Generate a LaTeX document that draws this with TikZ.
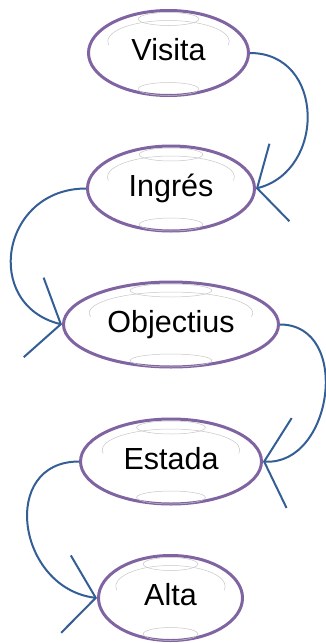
\documentclass[tikz,border=0pt]{standalone}
\usepackage{fontspec}
\setmainfont{Liberation Sans}
\usetikzlibrary{shapes.geometric, arrows.meta}
\definecolor{etapalila}{RGB}{128,100,162}
\definecolor{fluxblau}{RGB}{52,94,150}
\tikzset{
  etapa/.style={ellipse, draw=etapalila, line width=3pt, minimum height=85pt,
    inner sep=0pt, text height=21pt, text depth=6pt,
    font=\fontsize{30.5}{36}\selectfont},
  brillo/.style={draw=gray!45, line width=0.5pt},
  flux/.style={draw=fluxblau, line width=2pt, -{Straight Barb[#1]}},
  flux/.default={length=26pt, width=84pt}
}

\begin{document}
\begin{tikzpicture}[x=1pt, y=1pt]
            \useasboundingbox (0,0) rectangle (326,-643);
            % Etapes:
            % Each one is an ellipse with two small rings and an arc inside:
            \foreach \nom/\txt/\amp/\xx/\yy in {vis/Visita/160/168.5/53,
                ing/Ingrés/167/171/188.5, obj/Objectius/215/171/324.5,
                est/Estada/181/171/461.5, alt/Alta/144/170.5/598}{%
                \node [etapa, minimum width=\amp pt] (\nom) at (\xx,-\yy) {\txt};
                \draw [brillo] ([yshift=34pt]\nom.center) ellipse [x radius=0.19*\amp, y radius=6.5];
                \draw [brillo] ([yshift=11.5pt]\nom.center) ++(-10:{0.38*\amp} and 21)
                    arc [start angle=-10, end angle=190, x radius=0.38*\amp, y radius=21];
                \draw [brillo] ([yshift=-36pt]\nom.center) ellipse [x radius=0.19*\amp, y radius=6.5];
            }
            % Connectors:
            % Curves from side to side, alternating right and left:
            \draw [flux={length=23pt, width=80pt}] (vis.east) .. controls +(75,0) and +(70,18) .. (ing.east);
            \draw [flux={length=28pt, width=82pt}] (ing.west) .. controls +(-85,0) and +(-80,20) .. (obj.west);
            \draw [flux={length=25pt, width=90pt}] (obj.east) .. controls +(72,0) and +(70,-4) .. (est.east);
            \draw [flux={length=30pt, width=78pt}] (est.west) .. controls +(-80,0) and +(-80,10) .. (alt.west);
\end{tikzpicture}
\end{document}
